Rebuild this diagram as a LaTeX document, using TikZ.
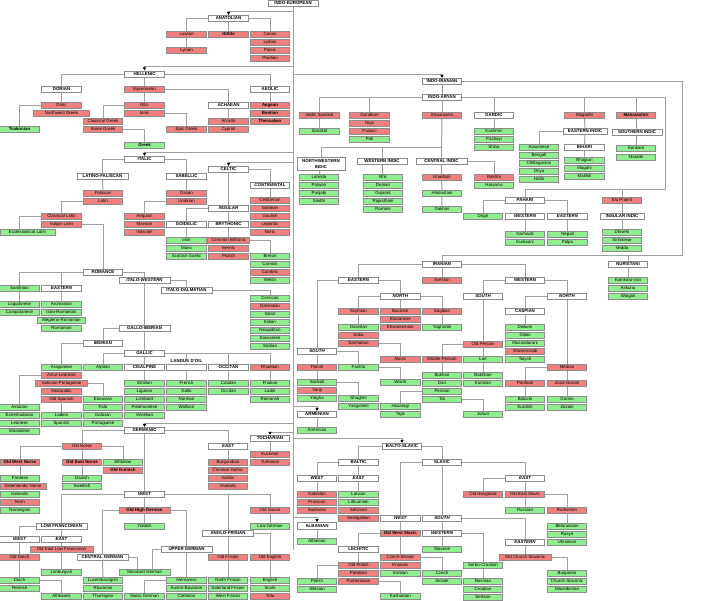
\documentclass[tikz,border=0pt]{standalone}
\usepackage{fontspec}
\setmainfont{Liberation Sans}
\usetikzlibrary{arrows.meta}
\definecolor{extc}{HTML}{F08080}
\definecolor{livc}{HTML}{90EE90}
\definecolor{bordc}{HTML}{8C8C8C}
\definecolor{linec}{HTML}{A0A0A0}
\newcommand\lfs{\fontsize{4.4}{5}\selectfont}
\newcommand\cHV[2]{\draw[con] (#1.center) -| (#2.center);}
\newcommand\cV[2]{\draw[con] (#1.center) -- (#2.center);}
\pgfdeclarelayer{back}
\pgfdeclarelayer{bg}
\pgfsetlayers{back,bg,main}
\tikzset{
  box/.style={draw=bordc, line width=0.6pt, minimum width=39.5pt, minimum height=6.2pt, inner xsep=0.8pt, inner ysep=0pt, text height=3.3pt, text depth=0.9pt, font=\lfs},
  ext/.style={box, fill=extc},
  extb/.style={ext, font=\lfs\bfseries},
  liv/.style={box, fill=livc},
  livb/.style={liv, font=\lfs\bfseries},
  hd/.style={box, fill=white, font=\lfs\bfseries},
  hdi/.style={box, fill=white, font=\lfs\bfseries\itshape},
  con/.style={draw=linec, line width=1pt},
  arr/.style={draw=linec, line width=1pt, -{Latex[color=black,length=3.2pt,width=3.6pt]}},
}
\begin{document}
\begin{tikzpicture}[x=1pt,y=-1pt]
\begin{pgfonlayer}{back}
\fill[white] (0,0) rectangle (704,600);
\end{pgfonlayer}
\useasboundingbox (0,0) rectangle (704,600);

% ---------- ANATOLIAN ----------
\node[hd, minimum width=50pt] (ie) at (293,3) {INDO-EUROPEAN};
\node[hd] (anat) at (228.5,18.5) {ANATOLIAN};
\node[ext] (luwian) at (186.5,34.5) {Luwian};
\node[extb] (hittite) at (228.5,34.5) {Hittite};
\node[ext] (carian) at (270,34.5) {Carian};
\node[ext] (lydian) at (270,42.5) {Lydian};
\node[ext] (palaic) at (270,50.5) {Palaic};
\node[ext] (pisidian) at (270,58.5) {Pisidian};
\node[ext] (lycian) at (186.5,50.5) {Lycian};

% ---------- HELLENIC ----------
\node[hd] (hell) at (144.5,74) {HELLENIC};
\node[hd] (dorian) at (61.5,89.5) {DORIAN};
\node[ext] (myc) at (144.5,89.5) {Mycenaean};
\node[hd] (aeolic) at (270,89.5) {AEOLIC};
\node[ext] (doric) at (61.5,105.5) {Doric};
\node[ext, minimum width=56pt] (nwgreek) at (61.5,113.5) {Northwest Greek};
\node[ext] (attic) at (144.5,105.5) {Attic};
\node[ext] (ionic) at (144.5,113.5) {Ionic};
\node[hd] (achaean) at (228.5,105.5) {ACHAEAN};
\node[extb] (aegean) at (270,105.5) {Aegean};
\node[extb] (beotian) at (270,113.5) {Beotian};
\node[extb] (thessalian) at (270,121.5) {Thessalian};
\node[ext] (classgreek) at (103,121.5) {Classical Greek};
\node[ext] (koine) at (103,129.5) {Koine Greek};
\node[ext] (epic) at (186.5,129.5) {Epic Greek};
\node[ext] (arcado) at (228.5,121.5) {Arcado};
\node[ext] (cypriot) at (228.5,129.5) {Cypriot};
\node[livb] (tsakonian) at (19.5,129.5) {Tsakonian};
\node[livb] (greek) at (144.5,145.5) {Greek};

% ---------- ITALIC / CELTIC ----------
\node[hd] (italic) at (144.5,159.5) {ITALIC};
\node[hd, minimum width=51pt] (latfal) at (102.5,176.5) {LATINO-FALISCAN};
\node[hd] (sabellic) at (186.5,176.5) {SABELLIC};
\node[hd] (celtic) at (228.5,169.5) {CELTIC};
\node[hdi] (continental) at (270,185.5) {CONTINENTAL};
\node[ext] (faliscan) at (103,193) {Faliscan};
\node[ext] (latin) at (103,201) {Latin};
\node[ext] (oscan) at (186.5,193) {Oscan};
\node[ext] (umbrian) at (186.5,201) {Umbrian};
\node[ext] (celtiberian) at (270,200.5) {Celtiberian};
\node[ext] (galatian) at (270,208.5) {Galatian};
\node[ext] (gaulish) at (270,216.5) {Gaulish};
\node[ext] (lepontic) at (270,224.5) {Lepontic};
\node[ext] (noric) at (270,232.5) {Noric};
\node[hdi] (insular) at (228.5,208.5) {INSULAR};
\node[ext] (classlatin) at (61.5,216.5) {Classical Latin};
\node[ext] (vulglatin) at (61.5,224.5) {Vulgar Latin};
\node[ext] (aequian) at (144.5,216.5) {Aequian};
\node[ext] (marsian) at (144.5,224.5) {Marsian};
\node[ext] (volscian) at (144.5,232.5) {Volscian};
\node[hd] (goidelic) at (186.5,224.5) {GOIDELIC};
\node[hd] (brythonic) at (228.5,224.5) {BRYTHONIC};
\node[liv, minimum width=55pt] (eccllatin) at (27.5,232.5) {Ecclesiastical Latin};
\node[liv] (irish) at (186.5,240.5) {Irish};
\node[liv] (manx) at (186.5,248.5) {Manx};
\node[liv] (scottish) at (186.5,256.5) {Scottish Gaelic};
\node[ext, minimum width=42pt] (commonbritt) at (228.5,240.5) {Common Brittonic};
\node[ext] (ivernic) at (228.5,248.5) {Ivernic};
\node[ext] (pictish) at (228.5,256.5) {Pictish};
\node[liv] (breton) at (270,256.5) {Breton};
\node[liv] (cornish) at (270,264.5) {Cornish};
\node[ext] (cumbric) at (270,272.5) {Cumbric};
\node[liv] (welsh) at (270,280.5) {Welsh};

% ---------- ROMANCE ----------
\node[hd] (romance) at (103,272.5) {ROMANCE};
\node[hdi, minimum width=51pt] (italowest) at (144.5,280.5) {ITALO-WESTERN};
\node[hd, minimum width=51pt] (italodalm) at (186.5,290) {ITALO-DALMATIAN};
\node[liv] (sardinian) at (19.5,288.5) {Sardinian};
\node[hdi] (reastern) at (61.5,288.5) {EASTERN};
\node[liv] (logudorese) at (19.5,304) {Logudorese};
\node[liv] (campidanese) at (19.5,312) {Campidanese};
\node[liv] (aromanian) at (61.5,304) {Aromanian};
\node[liv] (istrorom) at (61.5,312) {Istro-Romanian};
\node[liv, minimum width=48pt] (meglenorom) at (61.5,320) {Megleno-Romanian};
\node[liv] (romanian) at (61.5,328) {Romanian};
\node[liv] (corsican) at (270,298) {Corsican};
\node[ext] (dalmatian) at (270,306) {Dalmatian};
\node[liv] (istriot) at (270,314) {Istriot};
\node[liv] (italian) at (270,322) {Italian};
\node[liv] (neapolitan) at (270,330) {Neapolitan};
\node[liv] (sassarese) at (270,338) {Sassarese};
\node[liv] (sicilian) at (270,346) {Sicilian};
\node[hd, minimum width=51pt] (galloib) at (144.5,328) {GALLO-IBERIAN};
\node[hd] (iberian) at (103,343.5) {IBERIAN};
\node[hd] (gallic) at (144.5,353) {GALLIC};
\node[hd] (langoil) at (186.5,367.5) {};
\node[fill=white, inner sep=0.4pt, font=\lfs\bfseries] (langoiltxt) at (186.5,360.8) {LANGUE D'OIL};
\node[liv] (aragonese) at (61.5,367.5) {Aragonese};
\node[liv] (arpitan) at (103,367.5) {Arpitan};
\node[hd] (cisalpine) at (144.5,367.5) {CISALPINE};
\node[hd] (occitanh) at (228.5,367.5) {OCCITAN};
\node[ext] (rhaetian) at (270,367.5) {Rhaetian};
\node[ext] (asturleon) at (61.5,375.5) {Astur-Leonese};
\node[ext, minimum width=52pt] (galport) at (61.5,383.5) {Galician-Portuguese};
\node[ext] (mozarabic) at (61.5,391.5) {Mozarabic};
\node[ext] (oldspanish) at (61.5,399.5) {Old Spanish};
\node[liv] (emilian) at (144.5,383.5) {Emilian};
\node[liv] (ligurian) at (144.5,391.5) {Ligurian};
\node[liv] (lombard) at (144.5,399.5) {Lombard};
\node[liv] (piedmontese) at (144.5,407.5) {Piedmontese};
\node[liv] (venetian) at (144.5,415.5) {Venetian};
\node[liv] (french) at (186.5,383.5) {French};
\node[liv] (gallo) at (186.5,391.5) {Gallo};
\node[liv] (norman) at (186.5,399.5) {Norman};
\node[liv] (walloon) at (186.5,407.5) {Walloon};
\node[liv] (catalan) at (228.5,383.5) {Catalan};
\node[liv] (occitan) at (228.5,391.5) {Occitan};
\node[liv] (friulian) at (270,383.5) {Friulian};
\node[liv] (ladin) at (270,391.5) {Ladin};
\node[liv] (romansh) at (270,399.5) {Romansh};
\node[liv] (eonavian) at (103,399.5) {Eonavian};
\node[liv] (fala) at (103,407.5) {Fala};
\node[liv] (galician) at (103,415.5) {Galician};
\node[liv] (portuguese) at (103,423.5) {Portuguese};
\node[liv] (asturian) at (19.5,407.5) {Asturian};
\node[liv] (extremaduran) at (19.5,415.5) {Extremaduran};
\node[liv] (leonese) at (19.5,423.5) {Leonese};
\node[liv] (mirandese) at (19.5,431.5) {Mirandese};
\node[liv] (ladino) at (61.5,415.5) {Ladino};
\node[liv] (spanish) at (61.5,423.5) {Spanish};

% ---------- GERMANIC / TOCHARIAN ----------
\node[hd] (germanic) at (144.5,430.5) {GERMANIC};
\node[hd] (tocharian) at (270,438.5) {TOCHARIAN};
\node[ext] (kuchean) at (270,454.5) {Kuchean};
\node[ext] (turfanian) at (270,462.5) {Turfanian};
\node[ext] (oldnorse) at (82,446.5) {Old Norse};
\node[extb] (oldwestnorse) at (20,462.5) {Old West Norse};
\node[extb] (oldeastnorse) at (82,462.5) {Old East Norse};
\node[liv] (elfdalian) at (123,462.5) {Elfdalian};
\node[extb] (oldgutnish) at (123,470.5) {Old Gutnish};
\node[liv] (faroese) at (20,478.5) {Faroese};
\node[ext, minimum width=46pt] (greenlandic) at (23,486.5) {Greenlandic Norse};
\node[liv] (icelandic) at (20,494.5) {Icelandic};
\node[ext] (norn) at (20,502.5) {Norn};
\node[liv] (norwegian) at (20,510.5) {Norwegian};
\node[liv] (danish) at (82,478.5) {Danish};
\node[liv] (swedish) at (82,486.5) {Swedish};
\node[hdi] (gwestm) at (144.5,494) {WEST};
\node[extb, minimum width=51pt] (ohg) at (144.5,510.5) {Old High German};
\node[liv] (yiddish) at (144.5,526) {Yiddish};
\node[hdi] (geast) at (228,446.5) {EAST};
\node[ext] (burgundian) at (228,462.5) {Burgundian};
\node[ext] (crimgothic) at (228,470.5) {Crimean Gothic};
\node[ext] (gothic) at (228,478.5) {Gothic};
\node[ext] (vandalic) at (228,486.5) {Vandalic};
\node[ext] (oldsaxon) at (270,510.5) {Old Saxon};
\node[liv] (lowgerman) at (270,526) {Low German};
\node[hd, minimum width=51pt] (lowfranc) at (61.5,526) {LOW FRANCONIAN};
\node[hd, minimum width=51pt] (anglofris) at (228,533) {ANGLO-FRISIAN};
\node[hdi] (gwest) at (19.5,539) {WEST};
\node[hdi] (geastlf) at (61.5,539) {EAST};
\node[ext, minimum width=63pt] (oelf) at (61.5,549) {Old East Low Franconian};
\node[hd, minimum width=51pt] (uppergerman) at (186.5,549) {UPPER GERMAN};
\node[ext] (olddutch) at (19.5,557) {Old Dutch};
\node[hd, minimum width=51pt] (centralgerman) at (102.5,557) {CENTRAL GERMAN};
\node[ext] (oldfrisian) at (228,557) {Old Frisian};
\node[ext] (oldenglish) at (270,557) {Old English};
\node[liv] (limburgish) at (61.5,572.5) {Limburgish};
\node[liv, minimum width=51pt] (stdgerman) at (144.5,572.5) {Standard German};
\node[liv] (dutch) at (19.5,580.5) {Dutch};
\node[liv] (flemish) at (19.5,588.5) {Flemish};
\node[liv] (luxembourgish) at (103,580.5) {Luxembourgish};
\node[liv] (ripuarian) at (103,588.5) {Ripuarian};
\node[liv] (thuringian) at (103,596.5) {Thuringian};
\node[liv] (alemannic) at (186.5,580.5) {Alemannic};
\node[liv] (austrobav) at (186.5,588.5) {Austro-Bavarian};
\node[liv] (cimbrian) at (186.5,596.5) {Cimbrian};
\node[liv] (northfris) at (228,580.5) {North Frisian};
\node[liv] (saterland) at (228,588.5) {Saterland Frisian};
\node[liv] (westfris) at (228,596.5) {West Frisian};
\node[liv] (english) at (270,580.5) {English};
\node[liv] (scots) at (270,588.5) {Scots};
\node[ext] (yola) at (270,596.5) {Yola};
\node[liv] (afrikaans) at (61.5,596.5) {Afrikaans};
\node[liv] (swissgerman) at (144.5,596.5) {Swiss German};

% ---------- INDO-IRANIAN ----------
\node[hd] (indoiranian) at (442,81.5) {INDO-IRANIAN};
\node[hd] (indoaryan) at (442,97.5) {INDO-ARYAN};
\node[ext] (vedic) at (319.5,115.5) {Vedic Sanskrit};
\node[liv] (sanskrit) at (319.5,131.5) {Sanskrit};
\node[ext] (gandhari) at (369.5,115.5) {Gandhari};
\node[ext] (niya) at (369.5,123.5) {Niya};
\node[ext] (paisaci) at (369.5,131.5) {Paisaci};
\node[liv] (pali) at (369.5,139.5) {Pali};
\node[ext] (shauraseni) at (442,115.5) {Shauraseni};
\node[hd] (dardic) at (494,115.5) {DARDIC};
\node[liv] (kashmiri) at (494,131.5) {Kashmiri};
\node[liv] (pashayi) at (494,139.5) {Pashayi};
\node[liv] (shina) at (494,147.5) {Shina};
\node[ext] (magadhi) at (584.5,115.5) {Magadhi};
\node[extb] (maharashtri) at (636,115.5) {Maharashtri};
\node[hd, minimum width=44pt] (eindic) at (585,131.5) {EASTERN INDIC};
\node[hd, minimum width=50pt] (sindic) at (637,132) {SOUTHERN INDIC};
\node[liv] (assamese) at (539,147.5) {Assamese};
\node[liv] (bengali) at (539,155.5) {Bengali};
\node[liv] (chittagonian) at (539,163.5) {Chittagonian};
\node[liv] (oriya) at (539,171.5) {Oriya};
\node[liv] (halbi) at (539,179.5) {Halbi};
\node[hd] (bihari) at (584.5,147.5) {BIHARI};
\node[liv] (bhojpuri) at (584.5,160.5) {Bhojpuri};
\node[liv] (magahi) at (584.5,168.5) {Magahi};
\node[liv] (maithili) at (584.5,176.5) {Maithili};
\node[liv] (konkani) at (636,148.5) {Konkani};
\node[liv] (marathi) at (636,157) {Marathi};
\node[hd, minimum width=48pt, minimum height=13pt] (nwindic) at (321,163.5) {};
\node[font=\lfs\bfseries, inner sep=0pt] (nwindica) at (321,160.6) {NORTHWESTERN};
\node[font=\lfs\bfseries, inner sep=0pt] (nwindicb) at (321,166.6) {INDIC};
\node[hd, minimum width=50pt] (windic) at (382,161) {WESTERN INDIC};
\node[hd, minimum width=51pt] (cindic) at (441.5,161) {CENTRAL INDIC};
\node[liv] (lahnda) at (319,177) {Lahnda};
\node[liv] (potwari) at (319,185) {Potwari};
\node[liv] (punjabi) at (319,193) {Punjabi};
\node[liv] (sindhi) at (319,201) {Sindhi};
\node[liv] (bhil) at (383,177) {Bhil};
\node[liv] (domari) at (383,185) {Domari};
\node[liv] (gujarati) at (383,193) {Gujarati};
\node[liv] (rajasthani) at (383,201) {Rajasthani};
\node[liv] (romani) at (383,209) {Romani};
\node[ext] (khariboli) at (442,177) {Khariboli};
\node[liv] (hindustani) at (442,193) {Hindustani};
\node[liv] (dakhini) at (442,209.5) {Dakhini};
\node[ext] (rakhta) at (494,177) {Rakhta};
\node[liv] (haryanvi) at (494,185) {Haryanvi};
\node[liv] (dogri) at (483,216) {Dogri};
\node[hd] (pahari) at (525,200.5) {PAHARI};
\node[ext] (elu) at (622,200.5) {Elu Prakrit};
\node[hdi] (pwestern) at (525,216.5) {WESTERN};
\node[hdi] (peastern) at (567.5,216.5) {EASTERN};
\node[hd, minimum width=44pt] (insindic) at (622,216.5) {INSULAR INDIC};
\node[liv] (garhwali) at (525,234.5) {Garhwali};
\node[liv] (kumaoni) at (525,242.5) {Kumaoni};
\node[liv] (nepali) at (567.5,234.5) {Nepali};
\node[liv] (palpa) at (567.5,242.5) {Palpa};
\node[liv] (dhivehi) at (622,232.5) {Dhivehi};
\node[liv] (sinhalese) at (622,240.5) {Sinhalese};
\node[liv] (vedda) at (622,248.5) {Vedda};

% ---------- IRANIAN / NURISTANI ----------
\node[hd] (iranian) at (442,264.5) {IRANIAN};
\node[hd] (nuristani) at (628,264) {NURISTANI};
\node[liv] (kamkata) at (628,280) {Kamkata-Vari};
\node[liv] (askunu) at (628,288) {Askunu};
\node[liv] (waigali) at (628,296) {Waigali};
\node[ext] (avestan) at (442,280.3) {Avestan};
\node[hdi] (ieastern) at (358.5,280.3) {EASTERN};
\node[hdi] (inorth) at (400.3,296) {NORTH};
\node[ext] (scythian) at (358.5,311.5) {Scythian};
\node[liv] (ossetian) at (358.5,327.5) {Ossetian};
\node[ext] (saka) at (358.5,335.5) {Saka};
\node[ext] (sarmatian) at (358.5,343.5) {Sarmatian};
\node[ext] (bactrian) at (400.3,311.5) {Bactrian};
\node[ext] (khotanese) at (400.3,319.5) {Khotanese};
\node[ext] (khwarezmian) at (400.3,327.5) {Khwarezmian};
\node[ext] (sogdian) at (442,311.5) {Sogdian};
\node[liv] (yaghnobi) at (442,327.5) {Yaghnobi};
\node[hdi] (isouth) at (317,351) {SOUTH};
\node[ext] (alanic) at (400.3,359) {Alanic};
\node[ext] (pamiri) at (317,367) {Pamiri};
\node[liv] (pashto) at (358.5,367) {Pashto};
\node[liv] (sarikoli) at (317,382.5) {Sarikoli};
\node[ext] (vanji) at (317,390.5) {Vanji};
\node[liv] (yidgha) at (317,398.5) {Yidgha};
\node[liv] (shughni) at (358.5,398.5) {Shughni};
\node[liv] (yazgulami) at (358.5,406.5) {Yazgulami};
\node[liv] (waziri) at (400.3,382.5) {Waziri};
\node[hd] (iwestern) at (525,280) {WESTERN};
\node[hdi] (isouthw) at (483,296) {SOUTH};
\node[hdi] (inorthw) at (567,296) {NORTH};
\node[hd] (caspian) at (525,311.5) {CASPIAN};
\node[liv] (deilami) at (525,327.5) {Deilami};
\node[liv] (gilaki) at (525,335.5) {Gilaki};
\node[liv] (mazandarani) at (525,343.5) {Mazandarani};
\node[ext] (shahmirzadi) at (525,351.5) {Shahmirzadi};
\node[liv] (talysh) at (525,359.5) {Talysh};
\node[ext] (median) at (567,367.5) {Median};
\node[ext] (zazagorani) at (567,383.5) {Zaza-Gorani};
\node[liv] (gorani) at (567,399.5) {Gorani};
\node[liv] (zazaki) at (567,407.5) {Zazaki};
\node[ext] (parthian) at (525,383.5) {Parthian};
\node[liv] (balochi) at (525,399.5) {Balochi};
\node[liv] (kurdish) at (525,407.5) {Kurdish};
\node[ext] (oldpersian) at (483,344) {Old Persian};
\node[ext] (middlepersian) at (442,359) {Middle Persian};
\node[liv] (luri) at (483,359) {Luri};
\node[liv] (bakhtiari) at (483,375) {Bakhtiari};
\node[liv] (kumzari) at (483,383) {Kumzari};
\node[liv] (bukhori) at (442,375) {Bukhori};
\node[liv] (dari) at (442,383) {Dari};
\node[liv] (persian) at (442,391) {Persian};
\node[liv] (tat) at (442,399) {Tat};
\node[liv] (hazaragi) at (400.3,406.5) {Hazaragi};
\node[liv] (tajik) at (400.3,414.5) {Tajik};
\node[liv] (juhuri) at (483,414.5) {Juhuri};
\node[hd] (armenianh) at (317,414.5) {ARMENIAN};
\node[liv] (armenian) at (317,430.5) {Armenian};

% ---------- BALTO-SLAVIC / ALBANIAN ----------
\node[hd] (baltoslavic) at (402,446.5) {BALTO-SLAVIC};
\node[hd] (baltic) at (358.5,462.5) {BALTIC};
\node[hd] (slavic) at (442,462.5) {SLAVIC};
\node[hdi] (bwest) at (317,478.5) {WEST};
\node[hdi] (beast) at (358.5,478.5) {EAST};
\node[ext] (galindan) at (317,494) {Galindan};
\node[ext] (prussian) at (317,502) {Prussian};
\node[ext] (sudovian) at (317,510) {Sudovian};
\node[liv] (latvian) at (358.5,494) {Latvian};
\node[liv] (lithuanian) at (358.5,502) {Lithuanian};
\node[ext] (selonian) at (358.5,510) {Selonian};
\node[ext] (semigallian) at (358.5,518) {Semigallian};
\node[hd] (albanianh) at (317,525.8) {ALBANIAN};
\node[liv] (albanian) at (317,541.5) {Albanian};
\node[hdi] (swest) at (400.3,518) {WEST};
\node[hdi] (ssouth) at (442,518) {SOUTH};
\node[hdi] (seast) at (525,478) {EAST};
\node[ext] (oldnovgorod) at (483,494) {Old Novgorod};
\node[ext] (oldeastslavic) at (525,494) {Old East Slavic};
\node[liv] (russian) at (525,510) {Russian};
\node[ext] (ruthenian) at (567,510) {Ruthenian};
\node[liv] (belorussian) at (567,526) {Belorussian};
\node[liv] (rusyn) at (567,534) {Rusyn};
\node[liv] (ukrainian) at (567,542) {Ukrainian};
\node[hdi] (seastern) at (525,542) {EASTERN};
\node[ext, minimum width=52pt] (ocs) at (525,557.5) {Old Church Slavonic};
\node[liv] (bulgarian) at (567,573.5) {Bulgarian};
\node[liv] (churchslav) at (567,581.5) {Church Slavonic};
\node[liv] (macedonian) at (567,589.5) {Macedonian};
\node[hdi] (swestern) at (442,533.5) {WESTERN};
\node[liv] (slovene) at (442,549) {Slovene};
\node[liv] (serbocroat) at (483,565) {Serbo-Croatian};
\node[liv] (bosnian) at (483,581) {Bosnian};
\node[liv] (croatian) at (483,589) {Croatian};
\node[liv] (serbian) at (483,597) {Serbian};
\node[extb] (owslavic) at (400.3,533.5) {Old West Slavic};
\node[ext] (czechslovak) at (400.3,557.5) {Czech-Slovak};
\node[ext] (knaanic) at (400.3,565.5) {Knaanic};
\node[liv] (sorbian) at (400.3,573.5) {Sorbian};
\node[hd] (lechitic) at (358.5,549) {LECHITIC};
\node[ext] (oldpolish) at (358.5,565) {Old Polish};
\node[ext] (polabian) at (358.5,573) {Polabian};
\node[ext] (pomeranian) at (358.5,581) {Pomeranian};
\node[liv] (polish) at (317,581) {Polish};
\node[liv] (silesian) at (317,589) {Silesian};
\node[liv] (kashubian) at (400.3,596.5) {Kashubian};
\node[liv] (czech) at (442,573) {Czech};
\node[liv] (slovak) at (442,581) {Slovak};

% ---------- coordinates ----------
\coordinate (trunkend) at (293,550);
\coordinate (tAnat) at (293,11);
\coordinate (tHell) at (293,66);
\coordinate (tII) at (293,74);
\coordinate (tItal) at (293,152);
\coordinate (tCelt) at (293,162);
\coordinate (tArm) at (293,406.5);
\coordinate (tGerm) at (293,423);
\coordinate (tToch) at (293,432);
\coordinate (tBS) at (293,438.5);
\coordinate (tAlb) at (293,517.5);
\coordinate (iiR) at (682,81.5);
\coordinate (iiB) at (682,255.7);
\coordinate (iaR) at (665.7,97.5);
\coordinate (iaB) at (665.7,189);
\coordinate (shJ) at (442,147.3);

% ---------- connectors ----------
\begin{pgfonlayer}{bg}
\draw[con] (ie.center) -- (trunkend);
% Anatolian
\cHV{anat}{luwian} \cHV{anat}{carian} \cV{anat}{hittite} \cV{luwian}{lycian}
% Hellenic
\cHV{hell}{dorian} \cHV{hell}{aeolic} \cV{hell}{myc} \cHV{myc}{achaean} \cV{myc}{attic}
\cV{dorian}{doric} \cHV{doric}{tsakonian} \cHV{attic}{classgreek} \cHV{ionic}{epic}
\cHV{koine}{greek} \cV{aeolic}{aegean} \cV{achaean}{arcado}
% Italic
\cHV{italic}{latfal} \cHV{italic}{sabellic} \cV{latfal}{faliscan} \cV{sabellic}{oscan}
\cHV{latin}{classlatin}
\draw[con] (classlatin.center) -| ([xshift=-8pt]eccllatin.center);
\cHV{umbrian}{aequian}
% Celtic
\cHV{celtic}{continental} \cV{celtic}{commonbritt} \cHV{insular}{goidelic}
\cV{goidelic}{irish} \cV{continental}{celtiberian} \cHV{commonbritt}{breton}
% Romance
\cHV{vulglatin}{romance} \cHV{romance}{sardinian} \cHV{romance}{reastern}
\cHV{romance}{italowest} \cHV{italowest}{italodalm} \cV{italowest}{galloib}
\cHV{italodalm}{corsican} \cV{sardinian}{logudorese} \cV{reastern}{aromanian}
\cHV{galloib}{iberian} \cV{galloib}{gallic} \cHV{iberian}{aragonese}
\cHV{gallic}{arpitan} \cHV{gallic}{langoil} \cHV{gallic}{occitanh} \cHV{gallic}{rhaetian}
\cV{gallic}{cisalpine} \cHV{asturleon}{asturian} \cHV{galport}{eonavian}
\cV{oldspanish}{ladino} \cV{cisalpine}{emilian} \cV{langoil}{french}
\cV{occitanh}{catalan} \cV{rhaetian}{friulian}
% Germanic
\cHV{germanic}{oldnorse} \cV{germanic}{gwestm} \cHV{germanic}{geast}
\cHV{oldnorse}{oldwestnorse} \cHV{oldnorse}{elfdalian} \cV{oldnorse}{oldeastnorse}
\cV{oldwestnorse}{faroese}
\cV{oldeastnorse}{danish} \cV{tocharian}{kuchean} \cV{geast}{burgundian}
\cHV{gwestm}{lowfranc} \cHV{gwestm}{oldsaxon} \cHV{gwestm}{anglofris} \cV{gwestm}{ohg}
\cV{ohg}{yiddish} \cHV{ohg}{centralgerman} \cV{centralgerman}{luxembourgish}
\cHV{ohg}{uppergerman} \cV{uppergerman}{alemannic}
\draw[con] (centralgerman.center) -| ([xshift=-7.5pt]stdgerman.center);
\draw[con] (uppergerman.center) -| ([xshift=8.2pt]stdgerman.center);
\cHV{alemannic}{swissgerman}
\cHV{lowfranc}{gwest} \cV{lowfranc}{geastlf} \cV{geastlf}{limburgish}
\cV{gwest}{olddutch} \cV{olddutch}{dutch} \cHV{dutch}{afrikaans}
\cV{anglofris}{oldfrisian} \cHV{anglofris}{oldenglish}
\cV{oldfrisian}{northfris} \cV{oldenglish}{english} \cV{oldsaxon}{lowgerman}
% Indo-Iranian
\cV{indoiranian}{indoaryan}
\draw[con] (indoiranian.center) -- (iiR) -- (iiB) -| (iranian.center);
\draw[con] (iiB) -| (nuristani.center);
\cHV{indoaryan}{vedic} \cHV{indoaryan}{gandhari} \cV{indoaryan}{shauraseni}
\cHV{indoaryan}{dardic} \cHV{indoaryan}{magadhi} \cHV{indoaryan}{maharashtri}
\draw[con] (indoaryan.center) -- (iaR) -- (iaB) -| (pahari.center);
\draw[con] (iaB) -| (elu.center);
\cV{vedic}{sanskrit}
\cV{shauraseni}{cindic}
\draw[con] (shJ) -| (nwindic.center);
\draw[con] (shJ) -| (windic.center);
\cV{nwindic}{lahnda} \cV{windic}{bhil} \cV{cindic}{dakhini} \cHV{cindic}{rakhta}
\cV{dardic}{kashmiri} \cV{magadhi}{eindic} \cHV{eindic}{assamese} \cV{eindic}{bihari}
\cV{bihari}{bhojpuri} \cV{maharashtri}{sindic} \cV{sindic}{konkani}
\cHV{pahari}{dogri} \cV{pahari}{pwestern} \cHV{pahari}{peastern}
\cV{pwestern}{garhwali} \cV{peastern}{nepali} \cV{elu}{insindic} \cV{insindic}{dhivehi}
% Iranian
\cV{iranian}{avestan} \cHV{iranian}{ieastern} \cHV{iranian}{iwestern}
\cHV{ieastern}{isouth} \cHV{ieastern}{inorth}
\cHV{inorth}{scythian} \cV{inorth}{bactrian} \cHV{inorth}{sogdian}
\cV{scythian}{ossetian} \cV{sogdian}{yaghnobi} \cHV{sarmatian}{alanic}
\cV{isouth}{pamiri} \cHV{isouth}{pashto} \cV{pamiri}{sarikoli} \cHV{sarikoli}{shughni}
\cHV{pashto}{waziri}
\cHV{iwestern}{isouthw} \cV{isouthw}{oldpersian} \cHV{iwestern}{inorthw} \cV{inorthw}{median}
\cHV{inorthw}{caspian} \cV{caspian}{deilami} \cV{median}{zazagorani} \cV{zazagorani}{gorani}
\cHV{median}{parthian} \cV{parthian}{balochi}
\cHV{oldpersian}{middlepersian} \cV{oldpersian}{luri} \cV{luri}{bakhtiari}
\cV{middlepersian}{bukhori} \cHV{persian}{hazaragi} \cHV{tat}{juhuri}
\cV{nuristani}{kamkata} \cV{armenianh}{armenian}
% Balto-Slavic
\cHV{baltoslavic}{baltic} \cHV{baltoslavic}{slavic} \cHV{baltic}{bwest} \cV{baltic}{beast}
\cV{bwest}{galindan} \cV{beast}{latvian} \cV{albanianh}{albanian}
\cHV{slavic}{swest} \cV{slavic}{ssouth} \cHV{slavic}{seast}
\cV{swest}{owslavic} \cV{owslavic}{czechslovak} \cHV{owslavic}{lechitic} \cV{lechitic}{oldpolish}
\cHV{oldpolish}{polish} \cHV{pomeranian}{kashubian} \cHV{czechslovak}{czech}
\cV{ssouth}{swestern} \cV{swestern}{slovene} \cHV{swestern}{serbocroat} \cV{serbocroat}{bosnian}
\cHV{ssouth}{seastern} \cV{seastern}{ocs} \cHV{ocs}{bulgarian}
\cHV{seast}{oldnovgorod} \cV{seast}{oldeastslavic} \cV{oldeastslavic}{russian}
\cHV{oldeastslavic}{ruthenian} \cV{ruthenian}{belorussian}
\end{pgfonlayer}

% ---------- arrows from the trunk ----------
\draw[arr] (tAnat) -| (anat.north);
\draw[arr] (tHell) -| (hell.north);
\draw[arr] (tII) -| (indoiranian.north);
\draw[arr] (tItal) -| (italic.north);
\draw[arr] (tCelt) -| (celtic.north);
\draw[arr] (tArm) -| (armenianh.north);
\draw[arr] (tGerm) -| (germanic.north);
\draw[arr] (tToch) -| (tocharian.north);
\draw[arr] (tBS) -| (baltoslavic.north);
\draw[arr] (tAlb) -| (albanianh.north);
\end{tikzpicture}
\end{document}
